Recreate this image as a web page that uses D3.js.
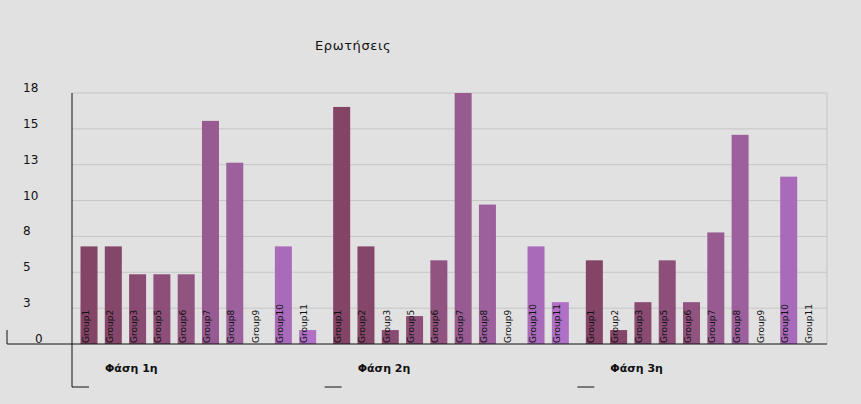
<!DOCTYPE html>
<html><head><meta charset="utf-8">
<script src="https://cdn.jsdelivr.net/npm/d3@7"></script>
<style>body{margin:0;background:#e1e1e1;}svg{display:block;}</style>
</head><body>
<svg id="c" width="861" height="404"></svg>
<script>
const title = "Ερωτήσεις";
const phases = ["Φάση 1η", "Φάση 2η", "Φάση 3η"];
const groups = ["Group1","Group2","Group3","Group5","Group6","Group7","Group8","Group9","Group10","Group11"];
const phase1 = [7, 7, 5, 5, 5, 16, 13, 0, 7, 1];
const phase2 = [17, 7, 1, 2, 6, 18, 10, 0, 7, 3];
const phase3 = [6, 1, 3, 6, 3, 8, 15, 0, 12, 0];
const colors = ["#834466","#854769","#8a4b72","#8d4f79","#915380","#985b91","#9c609d","#a266ab","#a96bb9","#b070c6"];
const yMax = 18;
const yTickCount = 7;

const values = [phase1, phase2, phase3];
const svg = d3.select("#c");
const mLeft = 72, mRight = 830, mTop = 93, mBase = 344;

const x0 = d3.scaleBand().domain(phases).range([mLeft, mRight]);
const x1 = d3.scaleBand().domain(groups).range([0, x0.bandwidth()]).paddingInner(0.3).paddingOuter(0.35);
const y = d3.scaleLinear().domain([0, yMax]).range([mBase, mTop]);
const ticks = d3.range(yTickCount + 1).map(i => yMax * i / yTickCount);

// gridlines
svg.append("g").selectAll("line").data(ticks.slice(1)).join("line")
  .attr("x1", mLeft).attr("x2", 827).attr("y1", d => y(d)).attr("y2", d => y(d))
  .attr("stroke", "#c6c6c6").attr("stroke-width", 1);
svg.append("line").attr("x1", 827).attr("x2", 827).attr("y1", mTop).attr("y2", mBase)
  .attr("stroke", "#c6c6c6");

// y labels
svg.append("g").selectAll("text").data(ticks).join("text")
  .attr("x", d => d === 0 ? 35 : 23).attr("y", d => y(d) - 1)
  .attr("font-family", "DejaVu Sans").attr("font-size", 12).attr("fill", "#111")
  .text(d => Math.round(d));

// bars
const pg = svg.append("g").selectAll("g").data(phases).join("g")
  .attr("transform", d => `translate(${x0(d)},0)`);
pg.selectAll("rect").data((p, i) => values[i].map((v, j) => ({g: groups[j], v, j})))
  .join("rect")
  .attr("x", d => x1(d.g)).attr("width", x1.bandwidth())
  .attr("y", d => y(d.v)).attr("height", d => mBase - y(d.v))
  .attr("fill", d => colors[d.j]);
pg.selectAll("text.g").data((p, i) => values[i].map((v, j) => ({g: groups[j], v, j})))
  .join("text").attr("class", "g")
  .attr("transform", d => `translate(${x1(d.g) + 8},${mBase - 1}) rotate(-90)`)
  .attr("font-family", "DejaVu Sans").attr("font-size", 9).attr("fill", "#111")
  .text(d => d.g);

// phase labels
svg.append("g").selectAll("text").data(phases).join("text")
  .attr("x", d => x0(d) + 33).attr("y", 372)
  .attr("font-family", "DejaVu Sans").attr("font-weight", "bold").attr("font-size", 11).attr("fill", "#111")
  .text(d => d);

// phase boundary ticks
svg.append("g").selectAll("line").data(phases).join("line")
  .attr("x1", d => x0(d)).attr("x2", d => x0(d) + 17).attr("y1", 387).attr("y2", 387)
  .attr("stroke", "#111");

// axes
svg.append("line").attr("x1", 7).attr("x2", 827).attr("y1", mBase).attr("y2", mBase).attr("stroke", "#111");
svg.append("line").attr("x1", 7).attr("x2", 7).attr("y1", 330).attr("y2", mBase).attr("stroke", "#111");
svg.append("line").attr("x1", mLeft).attr("x2", mLeft).attr("y1", mTop).attr("y2", 387).attr("stroke", "#111");

// title
svg.append("text").attr("x", 315).attr("y", 50)
  .attr("font-family", "DejaVu Sans").attr("font-size", 13).attr("letter-spacing", 0.6).attr("fill", "#111")
  .text(title);
</script>
</body></html>
